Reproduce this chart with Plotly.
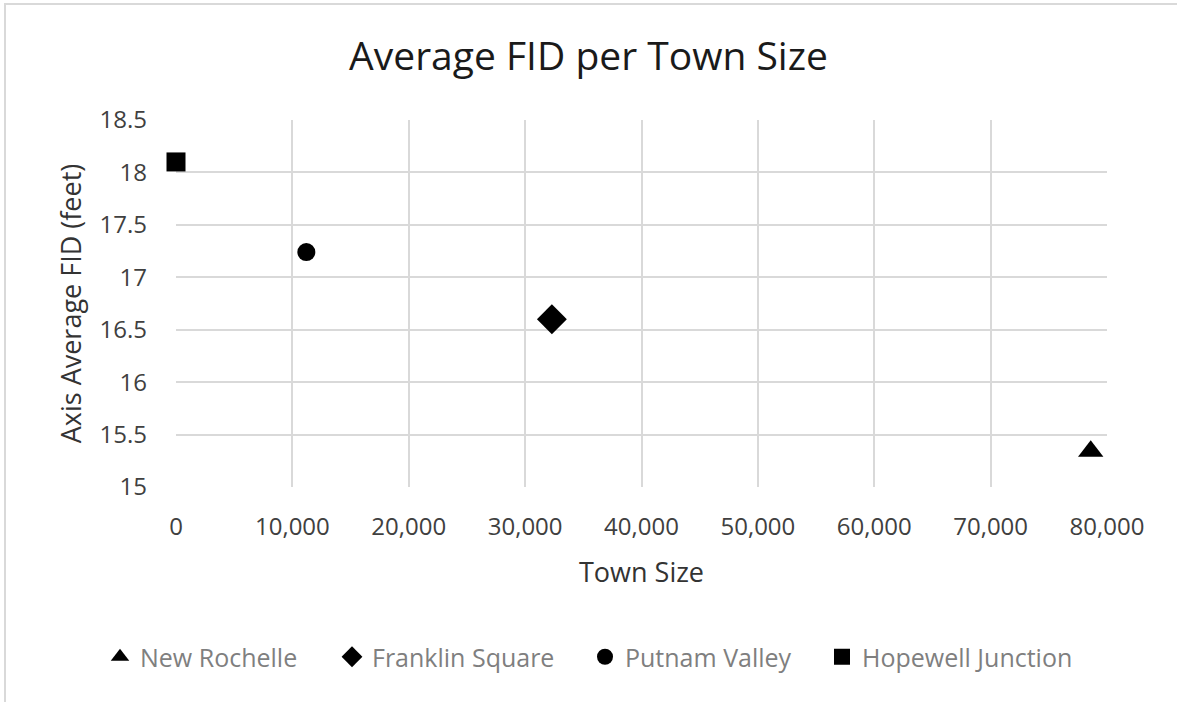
import plotly.graph_objects as go

# Town data: population and average flight initiation distance
towns = ["New Rochelle", "Franklin Square", "Putnam Valley", "Hopewell Junction"]
town_size = [78600, 32300, 11200, 0]
avg_fid = [15.34, 16.60, 17.24, 18.10]
symbols = ["triangle-up", "diamond", "circle", "square"]
marker_sizes = [22, 23, 18, 19]

x_ticks = [0, 10000, 20000, 30000, 40000, 50000, 60000, 70000, 80000]
y_ticks = [15, 15.5, 16, 16.5, 17, 17.5, 18, 18.5]

W, H = 1177, 702
ML, MR, MT, MB = 176, 70, 120, 215
pw = W - ML - MR
ph = H - MT - MB

# left edge (px) of each legend entry along the bottom row
legend_left_px = [100, 332, 585, 822]
legend_ids = ["legend", "legend2", "legend3", "legend4"]

fig = go.Figure()
for name, xs, ys, sym, sz, lg in zip(towns, town_size, avg_fid, symbols,
                                     marker_sizes, legend_ids):
    fig.add_trace(go.Scatter(
        x=[xs], y=[ys], mode="markers", name=name, cliponaxis=False,
        legend=lg,
        marker=dict(symbol=sym, size=sz, color="#000000"),
    ))

font_family = "'Open Sans', Lato, sans-serif"
tick_font = dict(family=font_family, size=24, color="#404040")

# outer chart frame in paper coordinates
x0 = (5 - ML) / pw
x1 = (W + 10 - ML) / pw
y1 = (H - 4 - MB) / ph
y0 = (-10 - MB) / ph

legend_y = -(657 - (H - MB)) / ph
legend_style = dict(
    orientation="h", xanchor="left", y=legend_y, yanchor="middle",
    font=dict(family=font_family, size=25, color="#7f7f7f"),
    itemwidth=30, bgcolor="rgba(0,0,0,0)",
)
legends = {lg: dict(legend_style, x=(px - ML) / pw)
           for lg, px in zip(legend_ids, legend_left_px)}

fig.update_layout(
    width=W, height=H,
    margin=dict(l=ML, r=MR, t=MT, b=MB),
    paper_bgcolor="white", plot_bgcolor="white",
    title=dict(text="Average FID per Town Size", x=0.5, xanchor="center",
               y=1 - 56 / H, yanchor="middle",
               font=dict(family=font_family, size=39, color="#1a1a1a")),
    xaxis=dict(
        range=[0, 80000], tickvals=x_ticks, tickformat=",",
        showgrid=True, gridcolor="#d9d9d9", gridwidth=2,
        zeroline=False, showline=False, ticks="",
        ticklabelstandoff=23, tickfont=tick_font,
        title=dict(text="Town Size", standoff=22,
                   font=dict(family=font_family, size=27, color="#333333")),
    ),
    yaxis=dict(
        range=[15, 18.5], tickvals=y_ticks,
        showgrid=True, gridcolor="#d9d9d9", gridwidth=2,
        zeroline=False, showline=False, ticks="",
        ticklabelstandoff=28, tickfont=tick_font,
        title=dict(text="Axis Average FID (feet)", standoff=10,
                   font=dict(family=font_family, size=27, color="#333333")),
    ),
    showlegend=True,
    shapes=[dict(type="rect", xref="paper", yref="paper",
                 x0=x0, x1=x1, y0=y0, y1=y1,
                 line=dict(color="#d9d9d9", width=2), layer="below")],
    **legends,
)

fig.write_html("out.html")
